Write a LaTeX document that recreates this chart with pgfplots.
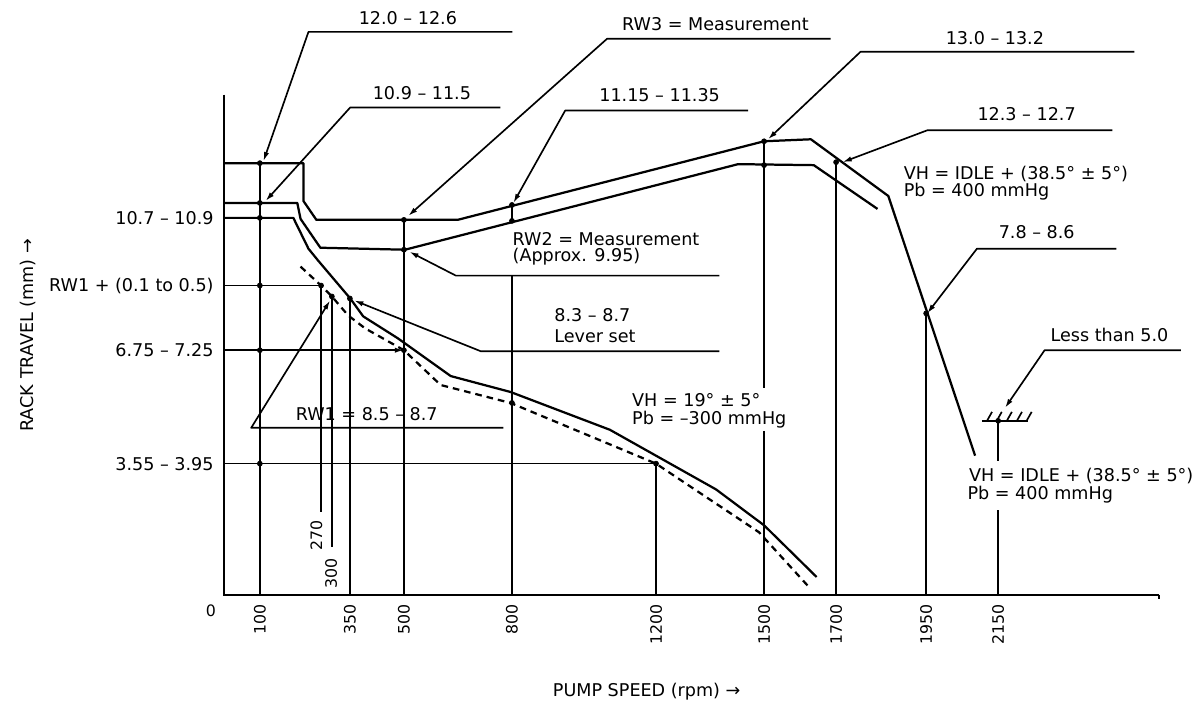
\documentclass[border=0pt]{standalone}
\usepackage{fontspec}
\setmainfont{DejaVu Sans}
\usepackage{pgfplots}
\pgfplotsset{compat=1.18}
\usetikzlibrary{arrows.meta}
\tikzset{
  lbl/.style={font=\fontsize{10.6}{12.5}\selectfont, inner sep=0pt},
  tl/.style={font=\fontsize{9.5}{11}\selectfont, inner sep=0pt},
}
\pgfplotsset{
  curve/.style={black, line width=1.35pt, line join=round},
  thin/.style={black, line width=1pt},
  lead/.style={black, line width=1pt, line join=round, -{Latex[length=5.5pt,width=3.2pt]}},
}
\begin{document}
\begin{tikzpicture}
\begin{axis}[
  x=0.2172pt, y=0.6pt,
  xmin=-621.5, xmax=2679.6, ymin=-127, ymax=598,
  hide axis, clip=false,
]
% invisible frame
\addplot[draw=none, forget plot] coordinates {(-621.5,-127) (2679.6,598)};
% axes
\addplot[black, line width=1.5pt] coordinates {(0,503) (0,0) (2597,0)};
\addplot[black, line width=0.8pt] coordinates {(2597,0) (2597,-4)};
% curves
\addplot[curve] coordinates {(0,434) (221,434) (221,396) (257,377) (649,377) (1500,456) (1630,458) (1845,401) (2086,140)};
\addplot[curve] coordinates {(0,394) (204,394) (213,378) (268,349) (503,347) (1428,433) (1638,432) (1815,388)};
\addplot[curve] coordinates {(0,379) (193,379) (235,348) (262,336) (351,298) (387,280) (483,258) (630,220) (796,204) (1072,166) (1367,106) (1500,70) (1646,18)};
\addplot[curve, dash pattern=on 4pt off 3pt] coordinates {(213,330) (270,311) (300,300) (345,281) (392,268) (500,246) (602,211) (796,193) (1200,132) (1486,63) (1622,9)};
% verticals
\addplot[thin] coordinates {(100,434) (100,0)};
\addplot[thin] coordinates {(270,311) (270,83)};
\addplot[thin] coordinates {(300,300) (300,48)};
\addplot[thin] coordinates {(350,298) (350,0)};
\addplot[thin] coordinates {(500,377) (500,0)};
\addplot[thin] coordinates {(800,392) (800,376)};
\addplot[thin] coordinates {(800,321) (800,0)};
\addplot[thin] coordinates {(1200,132) (1200,0)};
\addplot[thin] coordinates {(1500,456) (1500,208)};
\addplot[thin] coordinates {(1500,165) (1500,0)};
\addplot[thin] coordinates {(1700,435) (1700,0)};
\addplot[thin] coordinates {(1950,283) (1950,0)};
\addplot[thin] coordinates {(2150,175) (2150,135)};
\addplot[thin] coordinates {(2150,85) (2150,0)};
% horizontal references
\addplot[thin] coordinates {(0,311) (270,311)};
\addplot[thin] coordinates {(0,132) (1200,132)};
\addplot[lead] coordinates {(0,246) (500,246)};
% leaders
\addplot[lead] coordinates {(801,566) (235,566) (110,436)};
\addplot[lead] coordinates {(768,490) (351,490) (116,396)};
\addplot[lead] coordinates {(1685,559) (1064,559) (512,381)};
\addplot[lead] coordinates {(1456,487) (948,487) (804,394)};
\addplot[lead] coordinates {(2528,546) (1768,546) (1511,458)};
\addplot[lead] coordinates {(2467,467) (1953,467) (1718,435)};
\addplot[lead] coordinates {(2478,348) (2091,348) (1953,283)};
\addplot[lead] coordinates {(2657,246) (2279,246) (2169,188)};
\addplot[lead] coordinates {(1376,321) (644,321) (515,345)};
\addplot[lead] coordinates {(1376,245) (713,245) (362,296)};
\addplot[lead] coordinates {(776,168) (76,168) (295,296)};
% hatch (stop)
\addplot[thin] coordinates {(2105,175) (2232,175)};
\addplot[thin] coordinates {(2119,175) (2133,184)};
\addplot[thin] coordinates {(2146,175) (2160,184)};
\addplot[thin] coordinates {(2174,175) (2188,184)};
\addplot[thin] coordinates {(2202,175) (2216,184)};
\addplot[thin] coordinates {(2229,175) (2243,184)};
% dots
\addplot[only marks, mark=*, mark size=1.5pt, black] coordinates {
(100,434) (100,394) (100,379) (100,311) (100,246) (100,132)
(500,377) (500,347) (500,246) (800,392) (800,376) (800,193)
(270,311) (300,300) (350,298) (1200,132)
(1500,456) (1500,432) (1700,435) (1950,283) (2150,175)};
% texts
\node[lbl] at (axis cs:511,580) {12.0 – 12.6};
\node[lbl] at (axis cs:550,504) {10.9 – 11.5};
\node[lbl] at (axis cs:1365,574) {RW3 = Measurement};
\node[lbl] at (axis cs:1210,502) {11.15 – 11.35};
\node[lbl] at (axis cs:2141,560) {13.0 – 13.2};
\node[lbl] at (axis cs:2229,483) {12.3 – 12.7};
\node[lbl, anchor=west] at (axis cs:1887,423) {VH = IDLE + (38.5° ± 5°)};
\node[lbl, anchor=west] at (axis cs:1887,405) {Pb = 400 mmHg};
\node[lbl] at (axis cs:2257,365) {7.8 – 8.6};
\node[lbl] at (axis cs:2459,261) {Less than 5.0};
\node[lbl, anchor=west, fill=white, inner sep=1pt] at (axis cs:2064,120) {VH = IDLE + (38.5° ± 5°)};
\node[lbl, anchor=west] at (axis cs:2064,101) {Pb = 400 mmHg};
\node[lbl, anchor=west] at (axis cs:801,358) {RW2 = Measurement};
\node[lbl, anchor=west] at (axis cs:801,340) {(Approx. 9.95)};
\node[lbl, anchor=west] at (axis cs:917,281) {8.3 – 8.7};
\node[lbl, anchor=west] at (axis cs:917,260) {Lever set};
\node[lbl, anchor=west] at (axis cs:1133,196) {VH = 19° ± 5°};
\node[lbl, anchor=west] at (axis cs:1133,176) {Pb = –300 mmHg};
\node[lbl, anchor=west] at (axis cs:199,182) {RW1 = 8.5 – 8.7};
\node[tl, rotate=90] at (axis cs:257,60) {270};
\node[tl, rotate=90] at (axis cs:298,22) {300};
% y labels
\node[lbl, anchor=east] at (axis cs:-27.6,379) {10.7 – 10.9};
\node[lbl, anchor=east] at (axis cs:-27.6,311) {RW1 + (0.1 to 0.5)};
\node[lbl, anchor=east] at (axis cs:-27.6,246) {6.75 – 7.25};
\node[lbl, anchor=east] at (axis cs:-27.6,132) {3.55 – 3.95};
% x labels
\node[tl] at (axis cs:-36,-16) {0};
\node[tl, rotate=90, anchor=east] at (axis cs:100,-9) {100};
\node[tl, rotate=90, anchor=east] at (axis cs:350,-9) {350};
\node[tl, rotate=90, anchor=east] at (axis cs:500,-9) {500};
\node[tl, rotate=90, anchor=east] at (axis cs:800,-9) {800};
\node[tl, rotate=90, anchor=east] at (axis cs:1200,-9) {1200};
\node[tl, rotate=90, anchor=east] at (axis cs:1500,-9) {1500};
\node[tl, rotate=90, anchor=east] at (axis cs:1700,-9) {1700};
\node[tl, rotate=90, anchor=east] at (axis cs:1950,-9) {1950};
\node[tl, rotate=90, anchor=east] at (axis cs:2150,-9) {2150};
% axis titles
\node[lbl, rotate=90] at (axis cs:-544,261) {RACK TRAVEL (mm) →};
\node[lbl] at (axis cs:1174,-97) {PUMP SPEED (rpm) →};
\end{axis}
\end{tikzpicture}
\end{document}
